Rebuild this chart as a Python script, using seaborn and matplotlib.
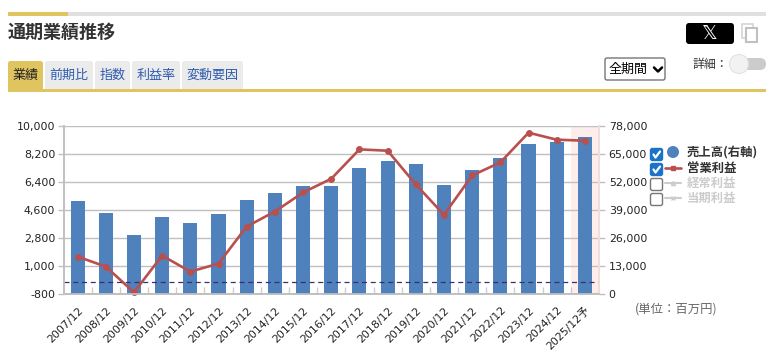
import matplotlib
matplotlib.use("Agg")
import numpy as np
import pandas as pd
import seaborn as sns
import matplotlib.pyplot as plt
from matplotlib.patches import Rectangle, FancyBboxPatch, Circle

periods = ["2007/12", "2008/12", "2009/12", "2010/12", "2011/12", "2012/12", "2013/12",
           "2014/12", "2015/12", "2016/12", "2017/12", "2018/12", "2019/12", "2020/12",
           "2021/12", "2022/12", "2023/12", "2024/12", "2025/12予"]
sales = [43260, 37680, 27450, 35820, 33030, 37220, 43730, 46990, 50240, 50240,
         58620, 61870, 60480, 50700, 57690, 63270, 69780, 70710, 73040]
op_profit = [1605, 961, -693, 1669, 638, 1154, 3537, 4503, 5727, 6607,
             8497, 8411, 6243, 4289, 6822, 7660, 9570, 9120, 9055]
left_ticks = [-800, 1000, 2800, 4600, 6400, 8200, 10000]
right_ticks = [0, 13000, 26000, 39000, 52000, 65000, 78000]
tabs = ["業績", "前期比", "指数", "利益率", "変動要因"]
legend_names = ["売上高(右軸)", "営業利益", "経常利益", "当期利益"]
legend_checked = [True, True, False, False]

sns.set_theme(style="white")
jp = ["Noto Sans CJK JP", "DejaVu Sans"]
plt.rcParams["font.family"] = ["DejaVu Sans", "Noto Sans CJK JP"]

W, H = 779, 359
fig = plt.figure(figsize=(W / 100, H / 100), dpi=100, facecolor="white")

df = pd.DataFrame({"period": periods, "sales": sales, "op": op_profit, "pos": range(len(periods))})

# bars on right axis, line on a twin that sits above
ax = fig.add_axes([63.5 / W, (H - 294) / H, 535.5 / W, 168 / H])
sns.barplot(data=df, x="period", y="sales", color="#4F81BD", saturation=1, width=0.5,
            linewidth=0, ax=ax, zorder=3)
ax2 = ax.twinx()

ax.set_xlim(-0.5, len(periods) - 0.5)
ax.set_ylim(0, 78000)
ax.axvspan(len(periods) - 1.5, len(periods) - 0.5, color="#FDEEEC", zorder=0, lw=0)
ax.yaxis.tick_right()
ax.set_yticks(right_ticks)
ax.set_yticklabels([f"{v:,}" for v in right_ticks], fontsize=7.9, color="#222222")
ax.grid(axis="y", color="#C0C0C0", lw=1)
ax.set_axisbelow(True)
ax.set_xlabel("")
ax.set_ylabel("")
ax.tick_params(axis="y", length=4, width=1, color="#C0C0C0", pad=3, right=True, left=False)
ax.set_xticks(range(len(periods)))
ax.set_xticklabels(periods, rotation=45, ha="right", rotation_mode="anchor", fontsize=7.9, color="#222222")
ax.tick_params(axis="x", which="major", length=0, pad=8)
ax.set_xticks(np.arange(0.5, len(periods) - 1), minor=True)
ax.tick_params(axis="x", which="minor", direction="in", length=5, width=1, color="#CCCCCC", bottom=True)

sns.lineplot(data=df, x="pos", y="op", color="#B9504E", lw=1.9, marker="o", ms=4.2, mec="#B9504E", ax=ax2, clip_on=False)
ax2.axhline(0, color="#3B2E6E", lw=0.9, dashes=(4, 3))
ax2.set_ylim(-800, 10000)
ax2.yaxis.tick_left()
ax2.set_yticks(left_ticks)
ax2.set_yticklabels([f"{v:,}" for v in left_ticks], fontsize=7.9, color="#222222")
ax2.tick_params(axis="y", length=4, width=1, color="#C0C0C0", pad=2, left=True, right=False)
ax2.set_xlabel("")
ax2.set_ylabel("")
for a in (ax, ax2):
    a.spines["top"].set_visible(False)
    a.spines["left"].set_visible(True)
    a.spines["left"].set_color("#C0C0C0")
    a.spines["bottom"].set_visible(True)
    a.spines["bottom"].set_color("#C0C0C0")
    a.spines["right"].set_visible(True)
    a.spines["right"].set_color("#F3DDDA")

# page furniture in pixel coordinates
ui = fig.add_axes([0, 0, 1, 1], zorder=5)
ui.set_xlim(0, W)
ui.set_ylim(H, 0)
ui.axis("off")
ui.patch.set_alpha(0)

ui.add_patch(Rectangle((68, 12), 698, 4, color="#E0E0E0", lw=0))
ui.add_patch(Rectangle((8, 12), 60, 4, color="#E0C45F", lw=0))
ui.text(8, 32, "通期業績推移", family=jp, fontsize=13, fontweight="bold", color="#333333", va="center")

tab_x = [(8, 43), (45, 93), (95, 130), (132, 180), (182, 243)]
for i, (name, (x0, x1)) in enumerate(zip(tabs, tab_x)):
    ui.add_patch(FancyBboxPatch((x0, 61), x1 - x0, 30, boxstyle="round,pad=0,rounding_size=2.5",
                                fc="#E0C45F" if i == 0 else "#EBEBEB", ec="none"))
    ui.text((x0 + x1) / 2, 75, name, family=jp, fontsize=9.4, ha="center", va="center",
            color="#222222" if i == 0 else "#2F5DAE")
ui.add_patch(Rectangle((8, 89), 758, 3, color="#E0C45F", lw=0, zorder=4))

# share button, copy icon
ui.add_patch(FancyBboxPatch((686, 23), 48, 21, boxstyle="round,pad=0,rounding_size=3", fc="black", ec="none"))
ui.text(710, 33.5, "𝕏", color="white", fontsize=14, ha="center", va="center", family="DejaVu Sans")
ui.add_patch(Rectangle((742.5, 24), 11, 14, fc="white", ec="#D5D5D5", lw=1.2))
ui.add_patch(Rectangle((746.5, 28), 11, 14, fc="white", ec="#C0C0C0", lw=1.5))

# period select and detail toggle
ui.add_patch(FancyBboxPatch((605, 58), 60, 22, boxstyle="round,pad=0,rounding_size=2", fc="white", ec="#767676", lw=1))
ui.text(609, 69, "全期間", family=jp, fontsize=9.4, color="black", va="center")
ui.plot([654, 658, 662], [67.5, 71.5, 67.5], color="black", lw=1.8)
ui.text(693, 64, "詳細：", family=jp, fontsize=8.6, color="#333333", va="center")
ui.add_patch(FancyBboxPatch((738, 58), 28, 12, boxstyle="round,pad=0,rounding_size=6", fc="#CCCCCC", ec="none"))
ui.add_patch(Circle((739, 64), 9.5, fc="#F2F2F2", ec="#E2E2E2", lw=0.8, zorder=3))

# legend
legend_y = [152, 168, 183, 198]
box_top = [148.5, 163.5, 178.5, 193.5]
for y, top, name, on in zip(legend_y, box_top, legend_names, legend_checked):
    ui.add_patch(FancyBboxPatch((650.5, top), 12, 12, boxstyle="round,pad=0,rounding_size=2",
                                fc="#1A73C8" if on else "white", ec="#1A73C8" if on else "#767676", lw=1))
    if on:
        ui.plot([653.5, 655.5, 660], [top + 6, top + 9, top + 3], color="white", lw=1.6)
    ui.text(687, y, name, family=jp, fontsize=8.9, fontweight="bold", va="center",
            color="#333333" if on else "#CCCCCC")
ui.add_patch(Circle((673, 152), 6, fc="#4F81BD", ec="none"))
ui.plot([665, 673, 681], [168, 168, 168], color="#B9504E", lw=1.9, marker="s", ms=3, markevery=[1])
ui.plot([665, 673, 681], [183, 183, 183], color="#CCCCCC", lw=1.5, marker="^", ms=3, markevery=[1])
ui.plot([665, 673, 681], [198, 198, 198], color="#CCCCCC", lw=1.5, marker="x", ms=3, markevery=[1])

ui.text(635, 309, "(単位：百万円)", family=jp, fontsize=8.9, color="#666666", va="center")

fig.savefig("out.png", dpi=100)
